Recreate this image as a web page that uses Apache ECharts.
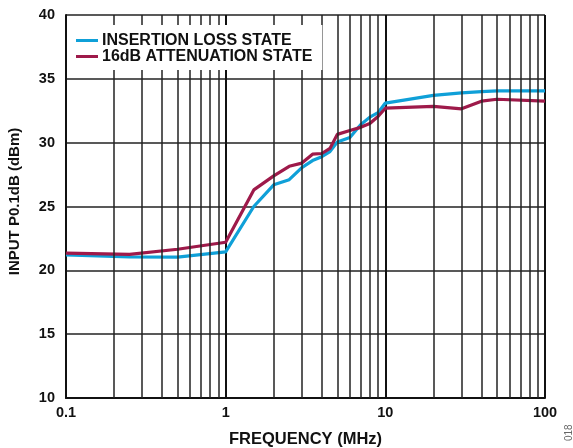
<!DOCTYPE html>
<html><head><meta charset="utf-8">
<script src="https://cdn.jsdelivr.net/npm/echarts@6/dist/echarts.min.js"></script>
<style>html,body{margin:0;padding:0;background:#fff}#c{width:573px;height:448px}</style>
</head><body><div id="c"></div>
<script>
const insertionFreq = [0.1, 0.25, 0.5, 1, 1.5, 2, 2.5, 3, 3.5, 4, 4.5, 5, 6, 7, 8, 9, 10, 20, 30, 40, 50, 100];
const insertionLoss = [21.2, 21.05, 21.03, 21.45, 25.0, 26.7, 27.1, 28.05, 28.6, 28.9, 29.3, 30.05, 30.4, 31.4, 32.0, 32.35, 33.1, 33.7, 33.9, 34.0, 34.05, 34.05];
const attenFreq = [0.1, 0.25, 0.5, 1, 1.5, 2, 2.5, 3, 3.5, 4, 4.5, 5, 6, 7, 8, 9, 10, 20, 30, 40, 50, 100];
const attenuation = [21.35, 21.25, 21.65, 22.2, 26.3, 27.4, 28.15, 28.4, 29.1, 29.15, 29.55, 30.65, 30.95, 31.2, 31.5, 32.05, 32.7, 32.85, 32.65, 33.25, 33.4, 33.25];
const minorFreqs = [0.2,0.3,0.4,0.5,0.6,0.7,0.8,0.9,2,3,4,5,6,7,8,9,20,30,40,50,60,70,80,90];
const xTickLabels = ['0.1', '1', '10', '100'];
const seriesNames = ['INSERTION LOSS STATE', '16dB ATTENUATION STATE'];

const chart = echarts.init(document.getElementById('c'), null, {renderer: 'canvas'});
const font = '"Liberation Sans", Arial, sans-serif';
chart.setOption({
  animation: false,
  backgroundColor: '#fff',
  grid: {left: 66, right: 28, top: 15, bottom: 50, containLabel: false, outerBoundsMode: 'none'},
  legend: {
    data: seriesNames, orient: 'vertical', left: 67, top: 25, itemGap: 0,
    padding: [7.5, 10, 5.5, 9], backgroundColor: '#fff', z: 10,
    itemWidth: 22, itemHeight: 3, icon: 'rect',
    textStyle: {fontFamily: font, fontWeight: 'bold', fontSize: 16, lineHeight: 15, color: '#111', padding: [0,0,0,-1]}
  },
  xAxis: {
    type: 'log', logBase: 10, min: 0.1, max: 100,
    name: 'FREQUENCY (MHz)', nameLocation: 'middle', nameGap: 33,
    nameTextStyle: {fontFamily: font, fontWeight: 'bold', fontSize: 16.5, color: '#111'},
    axisLine: {show: true, onZero: false, lineStyle: {color: '#111', width: 2}},
    axisTick: {show: false},
    axisLabel: {fontFamily: font, fontWeight: 'bold', fontSize: 14.5, color: '#111', margin: 7,
      formatter: v => { const s = String(+v.toPrecision(3)); return xTickLabels.includes(s) ? s : ''; }},
    splitLine: {show: true, lineStyle: {color: '#111', width: 2}}
  },
  yAxis: {
    type: 'value', min: 10, max: 40, interval: 5,
    name: 'INPUT P0.1dB (dBm)', nameLocation: 'middle', nameGap: 44,
    nameTextStyle: {fontFamily: font, fontWeight: 'bold', fontSize: 15, color: '#111', padding: [0, 0, 0, 10]},
    axisLine: {show: true, lineStyle: {color: '#111', width: 2}},
    axisTick: {show: false},
    axisLabel: {fontFamily: font, fontWeight: 'bold', fontSize: 14.5, color: '#111', margin: 11},
    splitLine: {show: true, lineStyle: {color: '#222', width: 1.5}}
  },
  series: [
    {
      name: 'grid-minor', type: 'line', data: [], silent: true,
      markLine: {silent: true, symbol: 'none', label: {show: false}, animation: false,
        lineStyle: {color: '#222', width: 1.5, type: 'solid'},
        data: minorFreqs.map(f => ({xAxis: f}))}
    },
    {
      name: seriesNames[0], type: 'line', symbol: 'none', z: 3,
      data: insertionFreq.map((f, i) => [f, insertionLoss[i]]),
      lineStyle: {color: '#0fa0d8', width: 3.2}, itemStyle: {color: '#0fa0d8'}
    },
    {
      name: seriesNames[1], type: 'line', symbol: 'none', z: 4,
      data: attenFreq.map((f, i) => [f, attenuation[i]]),
      lineStyle: {color: '#9e1a4a', width: 3.2}, itemStyle: {color: '#9e1a4a'}
    }
  ],
  graphic: [{
    type: 'text', x: 564, y: 441, rotation: Math.PI / 2,
    style: {text: '018', fontFamily: font, fontSize: 10, fill: '#666'}
  }]
});
</script></body></html>
